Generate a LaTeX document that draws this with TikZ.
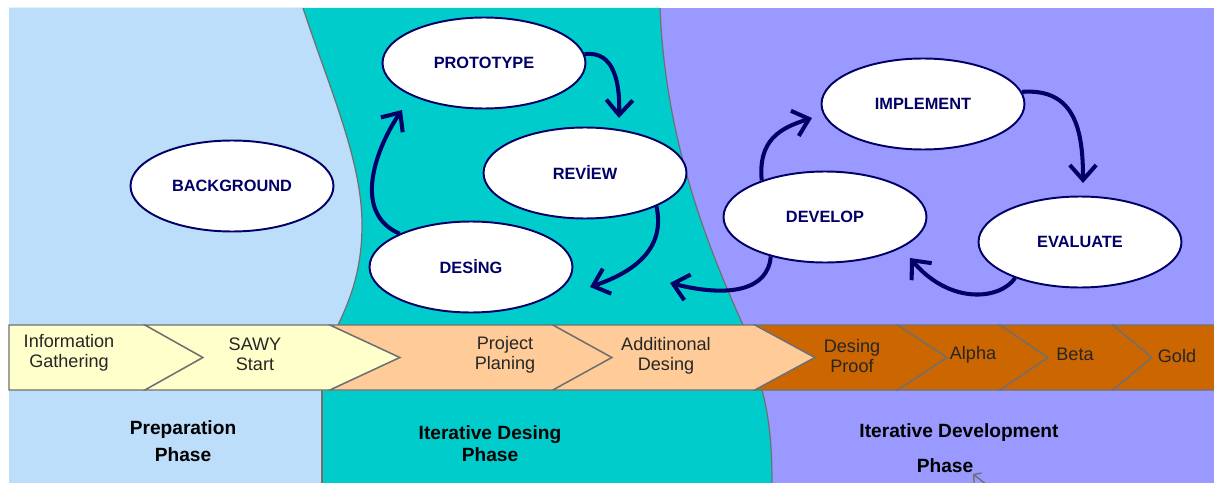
\documentclass[tikz,border=0pt]{standalone}
\usepackage{fontspec}
\setmainfont{Liberation Sans}
\usetikzlibrary{arrows.meta,shapes.geometric}
\definecolor{prepblue}{RGB}{189,222,251}
\definecolor{designteal}{RGB}{0,204,204}
\definecolor{devpurple}{RGB}{153,153,255}
\definecolor{stepyellow}{RGB}{255,255,204}
\definecolor{steppeach}{RGB}{255,204,153}
\definecolor{steporange}{RGB}{204,102,0}
\definecolor{navy}{RGB}{0,0,102}
\definecolor{edgegrey}{RGB}{112,112,112}
\tikzset{
  cycnode/.style={ellipse, draw=navy, line width=1.1pt, fill=white, inner sep=0pt,
    minimum width=4.06cm, minimum height=1.82cm, text=navy,
    font=\fontsize{9.3}{11}\selectfont\bfseries},
  cycarrow/.style={draw=navy, line width=2.3pt, -{Straight Barb[length=8.5pt,width=15pt]}},
  chevron/.style={draw=edgegrey, line width=0.8pt},
  chevtext/.style={align=center, text=black!85, font=\fontsize{10.3}{11.5}\selectfont},
  phasetext/.style={align=center, font=\fontsize{10.9}{13}\selectfont\bfseries}
}
\begin{document}
\begin{tikzpicture}[x=0.02cm, y=-0.02cm]
        \useasboundingbox (0,0) rectangle (1214,483);
        % Hintergrund
        \fill[devpurple] (9,8) rectangle (1214,483);
        \fill[designteal] (9,8) -- (660,8) .. controls (665,130) and (700,230) .. (743,325)
            -- (762,390) .. controls (770,420) and (772,450) .. (772,483) -- (9,483) -- cycle;
        \fill[prepblue] (9,8) -- (303,8) .. controls (330,90) and (362,160) .. (362,225)
            .. controls (362,270) and (350,300) .. (338,325)
            -- (338,390) -- (322,390) -- (322,483) -- (9,483) -- cycle;
        \draw[edgegrey, line width=0.7pt] (303,8) .. controls (330,90) and (362,160) .. (362,225)
            .. controls (362,270) and (350,300) .. (338,325);
        \draw[edgegrey, line width=0.7pt] (322,390) -- (322,483);
        \draw[edgegrey, line width=0.7pt] (660,8) .. controls (665,130) and (700,230) .. (743,325);
        \draw[edgegrey, line width=0.7pt] (762,390) .. controls (770,420) and (772,450) .. (772,483);
        % Zeitleiste
        \filldraw[chevron, fill=stepyellow] (9,325) -- (145,325) -- (203,357.5) -- (145,390) -- (9,390) -- cycle;
        \filldraw[chevron, fill=stepyellow] (145,325) -- (330,325) -- (400,357.5) -- (330,390) -- (145,390) -- (203,357.5) -- cycle;
        \filldraw[chevron, fill=steppeach] (330,325) -- (553,325) -- (612,357.5) -- (553,390) -- (330,390) -- (400,357.5) -- cycle;
        \filldraw[chevron, fill=steppeach] (553,325) -- (755,325) -- (815,357.5) -- (755,390) -- (553,390) -- (612,357.5) -- cycle;
        \filldraw[chevron, fill=steporange] (755,325) -- (898,325) -- (947,357.5) -- (898,390) -- (755,390) -- (815,357.5) -- cycle;
        \filldraw[chevron, fill=steporange] (898,325) -- (1000,325) -- (1048,357.5) -- (1000,390) -- (898,390) -- (947,357.5) -- cycle;
        \filldraw[chevron, fill=steporange] (1000,325) -- (1113,325) -- (1152,357.5) -- (1113,390) -- (1000,390) -- (1048,357.5) -- cycle;
        \filldraw[chevron, fill=steporange] (1113,325) -- (1216,325) -- (1216,390) -- (1113,390) -- (1152,357.5) -- cycle;
        \node[chevtext] (info) at (69,353) {Information\\Gathering};
        \node[chevtext] (sawy) at (255,354) {SAWY\\Start};
        \node[chevtext] (planing) at (505,355) {Project\\Planing};
        \node[chevtext] (additional) at (666,356) {Additinonal\\Desing};
        \node[chevtext] (proof) at (852,356) {Desing\\Proof};
        \node[chevtext] (alpha) at (973,355) {Alpha};
        \node[chevtext] (beta) at (1075,354) {Beta};
        \node[chevtext] (gold) at (1177,356) {Gold};
        % Phasen
        \node[phasetext] (prepphase) at (183,441) {Preparation\\[2.3pt]Phase};
        \node[phasetext] (designphase) at (490,444) {Iterative Desing\\[-0.5pt]Phase};
        \node[phasetext] (devphase) at (959,433) {Iterative Development};
        \node[phasetext] (devphasetwo) at (945,466) {Phase};
        \draw[edgegrey, line width=0.8pt, -{Straight Barb[length=3pt,width=7pt]}] (987,485) -- (973,474);
        % Zyklen
        \node[cycnode] (background) at (232,186) {BACKGROUND};
        \node[cycnode] (prototype) at (484,63) {PROTOTYPE};
        \node[cycnode] (review) at (585,173) {REVİEW};
        \node[cycnode] (desing) at (471,267) {DESİNG};
        \node[cycnode] (develop) at (825,217) {DEVELOP};
        \node[cycnode] (implement) at (923,104) {IMPLEMENT};
        \node[cycnode] (evaluate) at (1080,242) {EVALUATE};
        \coordinate (prototypetip) at (402,110);
        \coordinate (reviewtip) at (619,118);
        \coordinate (desingtip) at (590,287);
        \coordinate (developout) at (670,283);
        \coordinate (developtip) at (910,258);
        \coordinate (implementtip) at (812,118);
        \coordinate (evaluatetip) at (1083,183);
        % Pfeile
        \draw[cycarrow] (desing.155) .. controls (350,212) and (378,145) .. (prototypetip);
        \draw[cycarrow] (prototype.5) .. controls (615,50) and (620,85) .. (reviewtip);
        \draw[cycarrow] (review.-25) .. controls (665,245) and (640,270) .. (desingtip);
        \draw[cycarrow] (develop.216) .. controls (768,290) and (730,298) .. (developout);
        \draw[cycarrow] (evaluate.209) .. controls (1000,300) and (950,305) .. (developtip);
        \draw[cycarrow] (develop.150) .. controls (758,140) and (780,128) .. (implementtip);
        \draw[cycarrow] (implement.7) .. controls (1075,88) and (1083,130) .. (evaluatetip);
    \end{tikzpicture}
\end{document}
